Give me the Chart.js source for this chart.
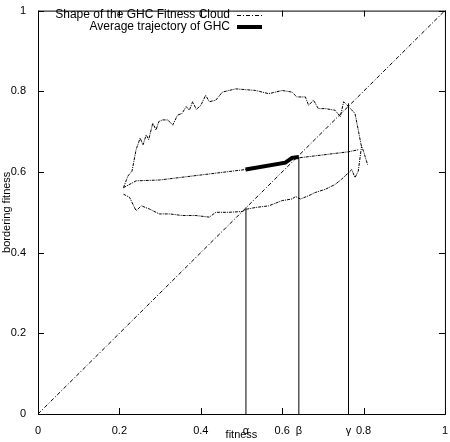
<!DOCTYPE html>
<html>
<head>
<meta charset="utf-8">
<script src="https://cdn.jsdelivr.net/npm/chart.js@4"></script>
<style>
  body { margin: 0; background: #fff; }
  #wrap { width: 450px; height: 442px; }
</style>
</head>
<body>
<div id="wrap"><canvas id="grafico"></canvas></div>
<script>
// contorno da nuvem (parte de cima e parte de baixo)
const nuvemCima = [
  [0.210,0.561],[0.221,0.590],[0.231,0.602],[0.241,0.655],[0.251,0.684],[0.258,0.667],[0.266,0.692],
  [0.272,0.680],[0.282,0.721],[0.290,0.704],[0.297,0.725],[0.306,0.729],[0.319,0.729],[0.331,0.716],
  [0.343,0.741],[0.354,0.745],[0.364,0.762],[0.372,0.753],[0.380,0.774],[0.389,0.755],[0.400,0.765],
  [0.412,0.790],[0.421,0.774],[0.437,0.778],[0.453,0.798],[0.486,0.806],[0.535,0.802],[0.567,0.794],
  [0.600,0.802],[0.624,0.798],[0.636,0.786],[0.657,0.786],[0.665,0.765],[0.677,0.778],[0.689,0.757],
  [0.706,0.757],[0.730,0.753],[0.743,0.737],[0.751,0.774],[0.763,0.762],[0.779,0.745],[0.787,0.704],
  [0.794,0.667],[0.800,0.651],[0.810,0.618]
];
const nuvemBaixo = [
  [0.210,0.545],[0.225,0.537],[0.241,0.504],[0.254,0.516],[0.274,0.508],[0.298,0.496],[0.323,0.496],
  [0.355,0.492],[0.388,0.492],[0.421,0.488],[0.437,0.500],[0.469,0.500],[0.502,0.502],[0.514,0.508],
  [0.535,0.512],[0.567,0.516],[0.600,0.529],[0.624,0.533],[0.633,0.539],[0.645,0.533],[0.665,0.541],
  [0.681,0.549],[0.706,0.557],[0.730,0.569],[0.746,0.582],[0.763,0.598],[0.771,0.606],[0.779,0.586],
  [0.787,0.602],[0.795,0.663]
];
const linhaMedia = [[0.210,0.561],[0.241,0.578],[0.298,0.580],[0.510,0.606],[0.620,0.629],[0.641,0.635],[0.763,0.650],[0.787,0.655]];
const trajetoria = [[0.510,0.606],[0.608,0.623],[0.624,0.635],[0.641,0.637]];
const diagonal = [[0,0],[1,1]];
// alfa, beta, gama e altura das linhas verticais
const marcasX = [0.511, 0.641, 0.763];
const alturasMarcas = [0.512, 0.637, 0.770];
const nomesMarcas = ['α', 'β', 'γ'];
const ticksX = [0, 0.2, 0.4, 0.6, 0.8, 1];
const ticksY = [0, 0.2, 0.4, 0.6, 0.8, 1];

const pts = a => a.map(p => ({ x: p[0], y: p[1] }));
const fonte = "'Liberation Sans', Arial, sans-serif";

const estiloFino = { borderColor: '#000', borderWidth: 1, pointRadius: 0, showLine: true, fill: false, tension: 0 };
const datasets = [
  { ...estiloFino, data: pts(nuvemCima), borderDash: [3, 1, 1, 1] },
  { ...estiloFino, data: pts(nuvemBaixo), borderDash: [3, 1, 1, 1] },
  { ...estiloFino, data: pts(linhaMedia), borderDash: [3, 1, 1, 1] },
  { ...estiloFino, data: pts(diagonal), borderDash: [4, 2, 1, 2] },
  { ...estiloFino, data: pts(trajetoria), borderWidth: 4 }
];
marcasX.forEach((x, i) => {
  datasets.push({ ...estiloFino, data: [{ x: x, y: 0 }, { x: x, y: alturasMarcas[i] }] });
});

// moldura, tracinhos para dentro e legenda (estilo gnuplot)
const molduraPlugin = {
  id: 'moldura',
  afterDraw(chart) {
    const c = chart.ctx, a = chart.chartArea, sx = chart.scales.x, sy = chart.scales.y;
    c.save();
    c.strokeStyle = '#000'; c.lineWidth = 1; c.setLineDash([]);
    c.strokeRect(a.left + 0.5, a.top + 0.5, a.right - a.left, a.bottom - a.top);
    c.beginPath();
    ticksX.forEach(v => {
      const x = Math.round(sx.getPixelForValue(v)) + 0.5;
      c.moveTo(x, a.bottom); c.lineTo(x, a.bottom - 6);
      c.moveTo(x, a.top); c.lineTo(x, a.top + 6);
    });
    ticksY.forEach(v => {
      const y = Math.round(sy.getPixelForValue(v)) + 0.5;
      c.moveTo(a.left, y); c.lineTo(a.left + 6, y);
      c.moveTo(a.right, y); c.lineTo(a.right - 6, y);
    });
    c.stroke();
    // legenda
    c.font = '12px ' + fonte; c.fillStyle = '#000'; c.textAlign = 'right'; c.textBaseline = 'middle';
    c.fillText('Shape of the GHC Fitness Cloud', 230, 15);
    c.fillText('Average trajectory of GHC', 230, 27);
    c.lineWidth = 1; c.setLineDash([4, 2, 1, 2]);
    c.beginPath(); c.moveTo(237, 15.5); c.lineTo(262, 15.5); c.stroke();
    c.setLineDash([]); c.lineWidth = 4;
    c.beginPath(); c.moveTo(237, 27); c.lineTo(262, 27); c.stroke();
    c.restore();
  }
};

new Chart(document.getElementById('grafico'), {
  type: 'scatter',
  data: { datasets: datasets },
  options: {
    responsive: true,
    maintainAspectRatio: false,
    animation: false,
    layout: { padding: { top: 6, right: 2 } },
    plugins: { legend: { display: false }, tooltip: { enabled: false } },
    scales: {
      x: {
        type: 'linear', min: 0, max: 1,
        afterBuildTicks: s => { s.ticks = ticksX.concat(marcasX).sort((a, b) => a - b).map(v => ({ value: v })); },
        afterFit: s => { s.height = 28; },
        grid: { display: false },
        border: { display: false },
        ticks: {
          color: '#000', font: { family: fonte, size: 11 }, padding: 2, maxRotation: 0, autoSkip: false,
          callback: v => { const i = marcasX.indexOf(v); return i >= 0 ? nomesMarcas[i] : String(v); }
        },
        title: { display: true, text: 'fitness', color: '#000', font: { family: fonte, size: 11 }, padding: 0 }
      },
      y: {
        type: 'linear', min: 0, max: 1,
        afterBuildTicks: s => { s.ticks = ticksY.map(v => ({ value: v })); },
        afterFit: s => { s.width = 38; },
        grid: { display: false },
        border: { display: false },
        ticks: { color: '#000', font: { family: fonte, size: 11 }, padding: 4, callback: v => String(v) },
        title: { display: true, text: 'bordering fitness', color: '#000', font: { family: fonte, size: 11 }, padding: 0 }
      }
    }
  },
  plugins: [molduraPlugin]
});
</script>
</body>
</html>
